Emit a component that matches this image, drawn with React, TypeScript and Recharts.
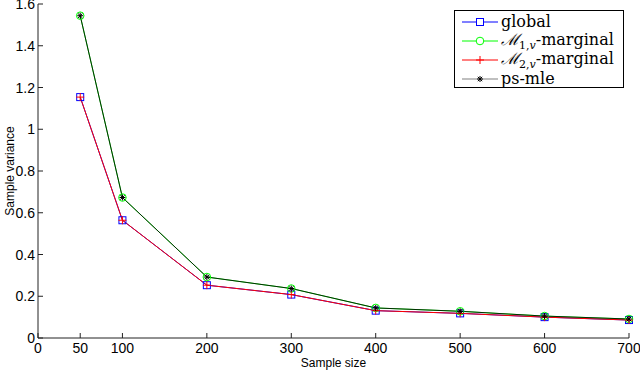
import React from 'react';
import { LineChart, Line, XAxis, YAxis, Legend } from 'recharts';

const sampleSizes = [50, 100, 200, 300, 400, 500, 600, 700];
const globalVar = [1.154, 0.564, 0.253, 0.208, 0.131, 0.118, 0.1, 0.086];
const m1Var = [1.544, 0.673, 0.292, 0.237, 0.144, 0.128, 0.105, 0.091];
const m2Var = [1.154, 0.564, 0.253, 0.208, 0.131, 0.118, 0.1, 0.086];
const psmleVar = [1.544, 0.673, 0.292, 0.237, 0.144, 0.128, 0.105, 0.091];
const xTicks = [0, 50, 100, 200, 300, 400, 500, 600, 700];
const yTicks = [0, 0.2, 0.4, 0.6, 0.8, 1, 1.2, 1.4, 1.6];
const yTickLabels = ['0', '0.2', '0.4', '0.6', '0.8', '1', '1.2', '1.4', '1.6'];

const data = sampleSizes.map((n, i) => ({
  n,
  global: globalVar[i],
  m1: m1Var[i],
  m2: m2Var[i],
  psmle: psmleVar[i],
}));

const AX = '#222';
const TICK_FONT = { fontFamily: '"Liberation Sans", Arial, sans-serif', fontSize: 14, fill: '#000' };

const BottomTick = (p: any) => (
  <g>
    <line x1={p.x} x2={p.x} y1={p.y} y2={p.y - 5} stroke={AX} strokeWidth={1} />
    <text x={p.x} y={p.y + 15} textAnchor="middle" style={TICK_FONT}>{p.payload.value}</text>
  </g>
);
const TopTick = (p: any) => (
  <line x1={p.x} x2={p.x} y1={p.y} y2={p.y + 5} stroke={AX} strokeWidth={1} />
);
const LeftTick = (p: any) => {
  const idx = yTicks.indexOf(p.payload.value);
  return (
    <g>
      <line x1={p.x} x2={p.x + 5} y1={p.y} y2={p.y} stroke={AX} strokeWidth={1} />
      <text x={p.x - 3} y={p.y + 5} textAnchor="end" style={TICK_FONT}>
        {idx >= 0 ? yTickLabels[idx] : p.payload.value}
      </text>
    </g>
  );
};
const RightTick = (p: any) => (
  <line x1={p.x} x2={p.x - 5} y1={p.y} y2={p.y} stroke={AX} strokeWidth={1} />
);

const Square = (p: any) =>
  p.cx == null ? null : (
    <rect key={p.index} x={p.cx - 3.5} y={p.cy - 3.5} width={7} height={7} fill="none" stroke="#0000ff" strokeWidth={1} />
  );
const Circle = (p: any) =>
  p.cx == null ? null : (
    <circle key={p.index} cx={p.cx} cy={p.cy} r={3.8} fill="none" stroke="#00ff00" strokeWidth={1} />
  );
const Plus = (p: any) =>
  p.cx == null ? null : (
    <g key={p.index}>
      <line x1={p.cx - 4} x2={p.cx + 4} y1={p.cy} y2={p.cy} stroke="#ff0000" strokeWidth={1} />
      <line x1={p.cx} x2={p.cx} y1={p.cy - 4} y2={p.cy + 4} stroke="#ff0000" strokeWidth={1} />
    </g>
  );
const Star = (p: any) =>
  p.cx == null ? null : (
    <g key={p.index} stroke="#000" strokeWidth={1}>
      <line x1={p.cx - 3} x2={p.cx + 3} y1={p.cy} y2={p.cy} />
      <line x1={p.cx} x2={p.cx} y1={p.cy - 3} y2={p.cy + 3} />
      <line x1={p.cx - 2.2} x2={p.cx + 2.2} y1={p.cy - 2.2} y2={p.cy + 2.2} />
      <line x1={p.cx - 2.2} x2={p.cx + 2.2} y1={p.cy + 2.2} y2={p.cy - 2.2} />
    </g>
  );

const SERIF = '"DejaVu Serif", serif';

const legendItems = [
  { key: 'global', color: '#0000ff', marker: 'square' },
  { key: 'm1', color: '#00ff00', marker: 'circle' },
  { key: 'm2', color: '#ff0000', marker: 'plus' },
  { key: 'psmle', color: '#000', marker: 'star', opacity: 0.5 },
];

const LegendLabel = ({ k }: { k: string }) => {
  if (k === 'global') return <span>global</span>;
  if (k === 'psmle') return <span>ps-mle</span>;
  const sub = k === 'm1' ? '1,' : '2,';
  return (
    <span>
      <span style={{ fontStyle: 'italic', fontSize: 16 }}>ℳ</span>
      <span style={{ fontSize: 11, position: 'relative', top: 4 }}>
        {sub}
        <i>v</i>
      </span>
      -marginal
    </span>
  );
};

const LegendMarker = ({ m, color, opacity }: any) => (
  <svg width={36} height={12} style={{ display: 'block' }}>
    <line x1={0} x2={36} y1={6} y2={6} stroke={color} strokeOpacity={opacity ?? 1} strokeWidth={1} />
    {m === 'square' && <rect x={14.5} y={2.5} width={7} height={7} fill="#fff" stroke={color} />}
    {m === 'circle' && <circle cx={18} cy={6} r={3.8} fill="#fff" stroke={color} />}
    {m === 'plus' && (
      <g stroke={color}>
        <line x1={14} x2={22} y1={6} y2={6} />
        <line x1={18} x2={18} y1={2} y2={10} />
      </g>
    )}
    {m === 'star' && (
      <g stroke="#000">
        <line x1={15} x2={21} y1={6} y2={6} />
        <line x1={18} x2={18} y1={3} y2={9} />
        <line x1={15.8} x2={20.2} y1={3.8} y2={8.2} />
        <line x1={15.8} x2={20.2} y1={8.2} y2={3.8} />
      </g>
    )}
  </svg>
);

const LegendBox = () => (
  <div
    style={{
      position: 'absolute',
      left: 454,
      top: 10,
      width: 168,
      height: 76,
      border: '1px solid #000',
      background: '#fff',
      fontFamily: SERIF,
      fontSize: 16,
      color: '#000',
      boxSizing: 'content-box',
    }}
  >
    {legendItems.map((it, i) => (
      <div
        key={it.key}
        style={{ position: 'absolute', left: 7, top: 1 + i * 19, height: 19, display: 'flex', alignItems: 'center', whiteSpace: 'nowrap', lineHeight: '19px' }}
      >
        <LegendMarker m={it.marker} color={it.color} opacity={it.opacity} />
        <span style={{ marginLeft: 3 }}>
          <LegendLabel k={it.key} />
        </span>
      </div>
    ))}
  </div>
);

export default function App() {
  return (
    <div style={{ position: 'absolute', left: 0, top: 0, width: 640, height: 370, background: '#fff' }}>
      <LineChart width={640} height={370} data={data} margin={{ top: 4, right: 11, left: 0, bottom: 0 }}>
        <XAxis
          xAxisId="b"
          dataKey="n"
          type="number"
          domain={[0, 700]}
          ticks={xTicks}
          tick={<BottomTick />}
          tickLine={false}
          tickSize={0}
          tickMargin={0}
          height={32}
          stroke={AX}
          interval={0}
          label={{
            content: (props: any) => {
              const vb = props.viewBox;
              return (
                <text x={vb.x + vb.width / 2} y={vb.y + 29} textAnchor="middle" style={{ fontFamily: '"Liberation Sans", Arial, sans-serif', fontSize: 12, fill: '#000' }}>
                  Sample size
                </text>
              );
            },
          }}
        />
        <XAxis
          xAxisId="t"
          dataKey="n"
          type="number"
          orientation="top"
          domain={[0, 700]}
          ticks={xTicks}
          tick={<TopTick />}
          tickLine={false}
          tickSize={0}
          tickMargin={0}
          height={0}
          stroke={AX}
          interval={0}
        />
        <YAxis
          yAxisId="l"
          type="number"
          domain={[0, 1.6]}
          ticks={yTicks}
          tick={<LeftTick />}
          tickLine={false}
          tickSize={0}
          tickMargin={0}
          width={38}
          stroke={AX}
          interval={0}
          label={{
            content: (props: any) => {
              const vb = props.viewBox;
              const cx = 10;
              const cy = vb.y + vb.height / 2;
              return (
                <text x={cx} y={cy} transform={`rotate(-90 ${cx} ${cy})`} textAnchor="middle" dominantBaseline="central" style={{ fontFamily: '"Liberation Sans", Arial, sans-serif', fontSize: 12, fill: '#000' }}>
                  Sample variance
                </text>
              );
            },
          }}
        />
        <YAxis
          yAxisId="r"
          type="number"
          orientation="right"
          domain={[0, 1.6]}
          ticks={yTicks}
          tick={<RightTick />}
          tickLine={false}
          tickSize={0}
          tickMargin={0}
          width={0}
          stroke={AX}
          interval={0}
        />
        <Line xAxisId="b" yAxisId="l" dataKey="global" stroke="#0000ff" strokeWidth={1} dot={Square} isAnimationActive={false} />
        <Line xAxisId="b" yAxisId="l" dataKey="m1" stroke="#00ff00" strokeWidth={1} dot={Circle} isAnimationActive={false} />
        <Line xAxisId="b" yAxisId="l" dataKey="m2" stroke="#ff0000" strokeWidth={1} dot={Plus} isAnimationActive={false} />
        <Line xAxisId="b" yAxisId="l" dataKey="psmle" stroke="#000" strokeOpacity={0.82} strokeWidth={1} dot={Star} isAnimationActive={false} />
        <Legend content={() => null} />
      </LineChart>
      <LegendBox />
    </div>
  );
}
